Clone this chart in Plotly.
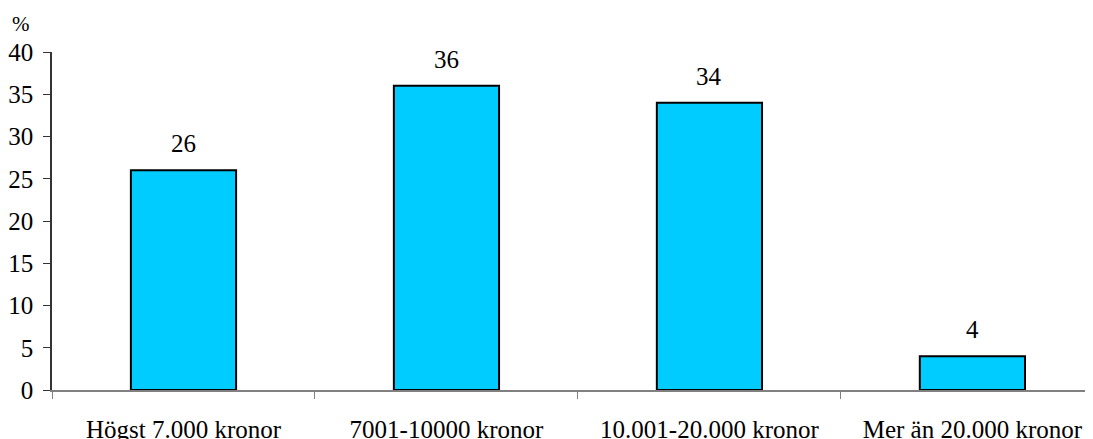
import plotly.graph_objects as go

categories = ["Högst 7.000 kronor", "7001-10000 kronor", "10.001-20.000 kronor", "Mer än 20.000 kronor"]
values = [26, 36, 34, 4]
y_ticks = [0, 5, 10, 15, 20, 25, 30, 35, 40]

FONT = "Liberation Serif, Times New Roman, serif"

fig = go.Figure()
fig.add_trace(go.Bar(
    x=categories, y=values, width=0.4,
    marker=dict(color="#00CCFF", line=dict(color="black", width=2)),
    hoverinfo="skip",
))
for c, v in zip(categories, values):
    fig.add_annotation(x=c, y=v, text=str(v), showarrow=False,
                       yanchor="bottom", yshift=11,
                       font=dict(family=FONT, size=25, color="black"))

fig.add_annotation(xref="paper", yref="paper", x=-0.030, y=1.083, text="%",
                   showarrow=False, xanchor="center", yanchor="middle",
                   font=dict(family=FONT, size=21, color="black"))

fig.update_layout(
    width=1093, height=439,
    margin=dict(l=44, r=0, t=44, b=57),
    plot_bgcolor="white", paper_bgcolor="white",
    showlegend=False, bargap=0.6,
    font=dict(family=FONT, size=25, color="black"),
)
fig.update_xaxes(
    type="category", range=[-0.5, 3.489], automargin=False,
    showline=True, linecolor="#808080", linewidth=1.5,
    ticks="outside", tickson="boundaries", ticklen=7, tickcolor="#808080",
    showgrid=False, zeroline=False, ticklabelstandoff=16,
    tickfont=dict(family=FONT, size=25, color="black"),
)
fig.update_yaxes(
    range=[0, 40], tickvals=y_ticks, automargin=False,
    showline=True, linecolor="#333333", linewidth=1.5,
    ticks="outside", ticklen=7, tickcolor="#333333",
    showgrid=False, zeroline=False, ticklabelstandoff=5,
    tickfont=dict(family=FONT, size=25, color="black"),
)

fig.write_html("out.html")
